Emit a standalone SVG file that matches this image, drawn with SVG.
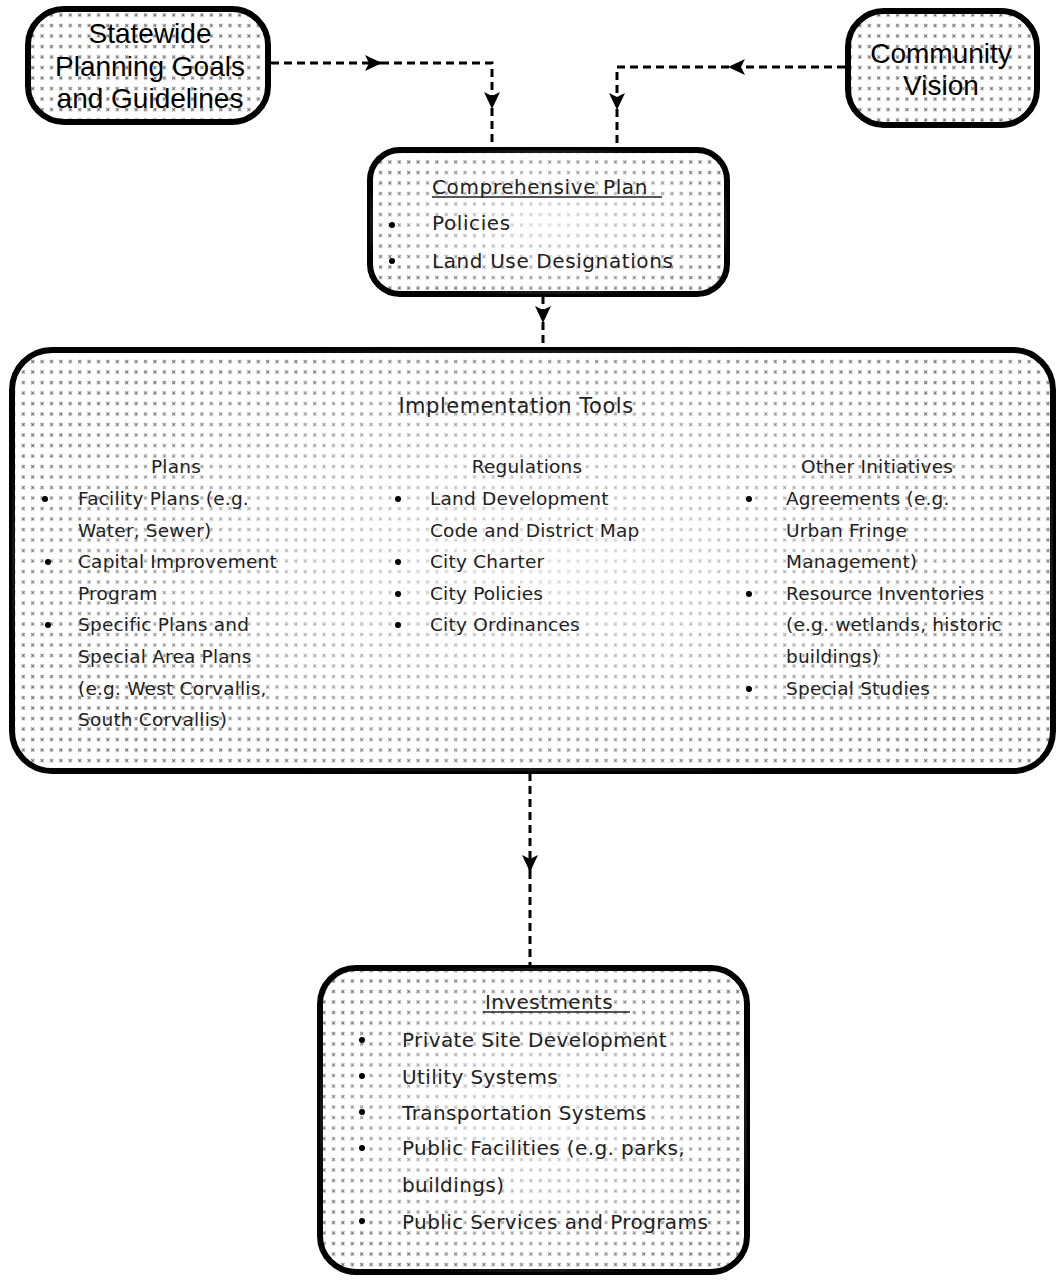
<svg xmlns="http://www.w3.org/2000/svg" width="1058" height="1283" viewBox="0 0 1058 1283">
<defs>
<pattern id="ht" width="9.4" height="10.5" patternUnits="userSpaceOnUse">
<rect width="9.4" height="10.5" fill="#ffffff"/>
<path d="M3,3 L6,6 M6,3 L3,6" stroke="#666" stroke-width="1"/>
</pattern>
<radialGradient id="fade" cx="0.5" cy="0.5" r="0.55">
<stop offset="0" stop-color="#fff" stop-opacity="0.75"/>
<stop offset="0.6" stop-color="#fff" stop-opacity="0.35"/>
<stop offset="1" stop-color="#fff" stop-opacity="0"/>
</radialGradient>
<marker id="ah" markerWidth="18" markerHeight="18" refX="16" refY="9" orient="auto" markerUnits="userSpaceOnUse">
<path d="M0,1 L17,9 L0,17 L4,9 Z" fill="#000"/>
</marker>
</defs>
<style>
.box{fill:url(#ht);stroke:#000;stroke-width:6}
.glow{stroke:none}
.big{font-family:"Liberation Sans",Arial,sans-serif;font-size:28px;fill:#000;text-anchor:middle}
.t{font-family:"DejaVu Sans","Liberation Sans",sans-serif;fill:#222}
.cp{font-size:20px;letter-spacing:0.6px}
.im{font-size:18.5px;letter-spacing:0.2px}
.iv{font-size:20px;letter-spacing:0.4px}
.mid{text-anchor:middle}
.conn{fill:none;stroke:#000;stroke-width:3;stroke-dasharray:8 5}
.ul{stroke:#222;stroke-width:1.5}
.bul{fill:#000}
</style>
<rect width="1058" height="1283" fill="#fff"/>

<g id="connectors">
<path class="conn" d="M271,63 L381,63" marker-end="url(#ah)"/>
<path class="conn" d="M381,63 L492,63 L492,108" marker-end="url(#ah)"/>
<path class="conn" d="M492,108 L492,148"/>
<path class="conn" d="M845,67 L729,67" marker-end="url(#ah)"/>
<path class="conn" d="M729,67 L617,67 L617,109" marker-end="url(#ah)"/>
<path class="conn" d="M617,109 L617,148"/>
<path class="conn" d="M543,296 L543,322" marker-end="url(#ah)"/>
<path class="conn" d="M543,322 L543,348"/>
<path class="conn" d="M530,773 L530,871" marker-end="url(#ah)"/>
<path class="conn" d="M530,871 L530,966"/>
</g>

<g id="statewide">
<rect class="box" x="28" y="9" width="240" height="113" rx="36"/>
<text class="big" x="150" y="43">Statewide</text>
<text class="big" x="150" y="76">Planning Goals</text>
<text class="big" x="150" y="108">and Guidelines</text>
</g>

<g id="community">
<rect class="box" x="848" y="11" width="189" height="114" rx="36"/>
<text class="big" x="941" y="63">Community</text>
<text class="big" x="941" y="95">Vision</text>
</g>

<g id="comprehensive">
<rect class="box" x="370" y="150" width="357" height="144" rx="30"/>
<rect class="glow" x="370" y="150" width="357" height="144" rx="30" fill="url(#fade)"/>
<text class="t cp" x="432" y="194">Comprehensive Plan</text>
<line class="ul" x1="432" y1="197" x2="662" y2="197"/>
<circle class="bul" cx="392" cy="225" r="3"/>
<text class="t cp" x="432" y="230">Policies</text>
<circle class="bul" cx="392" cy="261" r="3"/>
<text class="t cp" x="432" y="268">Land Use Designations</text>
</g>

<g id="implementation">
<rect class="box" x="12" y="350" width="1041" height="421" rx="40"/>
<rect class="glow" x="12" y="350" width="1041" height="421" rx="40" fill="url(#fade)"/>
<text class="t mid" x="516" y="413" style="font-size:21px;letter-spacing:0.5px">Implementation Tools</text>
<text class="t im mid" x="176" y="473">Plans</text>
<text class="t im mid" x="527" y="473">Regulations</text>
<text class="t im mid" x="877" y="473">Other Initiatives</text>

<circle class="bul" cx="45" cy="499" r="3"/>
<text class="t im" x="78" y="505">Facility Plans (e.g.</text>
<text class="t im" x="78" y="537">Water, Sewer)</text>
<circle class="bul" cx="48" cy="562" r="3"/>
<text class="t im" x="78" y="568">Capital Improvement</text>
<text class="t im" x="78" y="600">Program</text>
<circle class="bul" cx="48" cy="625" r="3"/>
<text class="t im" x="78" y="631">Specific Plans and</text>
<text class="t im" x="78" y="663">Special Area Plans</text>
<text class="t im" x="78" y="695">(e.g. West Corvallis,</text>
<text class="t im" x="78" y="726">South Corvallis)</text>

<circle class="bul" cx="398" cy="499" r="3"/>
<text class="t im" x="430" y="505">Land Development</text>
<text class="t im" x="430" y="537">Code and District Map</text>
<circle class="bul" cx="398" cy="562" r="3"/>
<text class="t im" x="430" y="568">City Charter</text>
<circle class="bul" cx="398" cy="594" r="3"/>
<text class="t im" x="430" y="600">City Policies</text>
<circle class="bul" cx="398" cy="625" r="3"/>
<text class="t im" x="430" y="631">City Ordinances</text>

<circle class="bul" cx="749" cy="499" r="3"/>
<text class="t im" x="786" y="505">Agreements (e.g.</text>
<text class="t im" x="786" y="537">Urban Fringe</text>
<text class="t im" x="786" y="568">Management)</text>
<circle class="bul" cx="749" cy="594" r="3"/>
<text class="t im" x="786" y="600">Resource Inventories</text>
<text class="t im" x="786" y="631">(e.g. wetlands, historic</text>
<text class="t im" x="786" y="663">buildings)</text>
<circle class="bul" cx="749" cy="689" r="3"/>
<text class="t im" x="786" y="695">Special Studies</text>
</g>

<g id="investments">
<rect class="box" x="320" y="968" width="427" height="304" rx="36"/>
<rect class="glow" x="320" y="968" width="427" height="304" rx="36" fill="url(#fade)"/>
<text class="t iv" x="485" y="1009">Investments</text>
<line class="ul" x1="483" y1="1012" x2="630" y2="1012"/>
<circle class="bul" cx="362" cy="1040" r="3"/>
<text class="t iv" x="402" y="1047">Private Site Development</text>
<circle class="bul" cx="362" cy="1076" r="3"/>
<text class="t iv" x="402" y="1084">Utility Systems</text>
<circle class="bul" cx="362" cy="1112" r="3"/>
<text class="t iv" x="402" y="1120">Transportation Systems</text>
<circle class="bul" cx="362" cy="1148" r="3"/>
<text class="t iv" x="402" y="1155">Public Facilities (e.g. parks,</text>
<text class="t iv" x="402" y="1192">buildings)</text>
<circle class="bul" cx="362" cy="1221" r="3"/>
<text class="t iv" x="402" y="1229">Public Services and Programs</text>
</g>
</svg>
